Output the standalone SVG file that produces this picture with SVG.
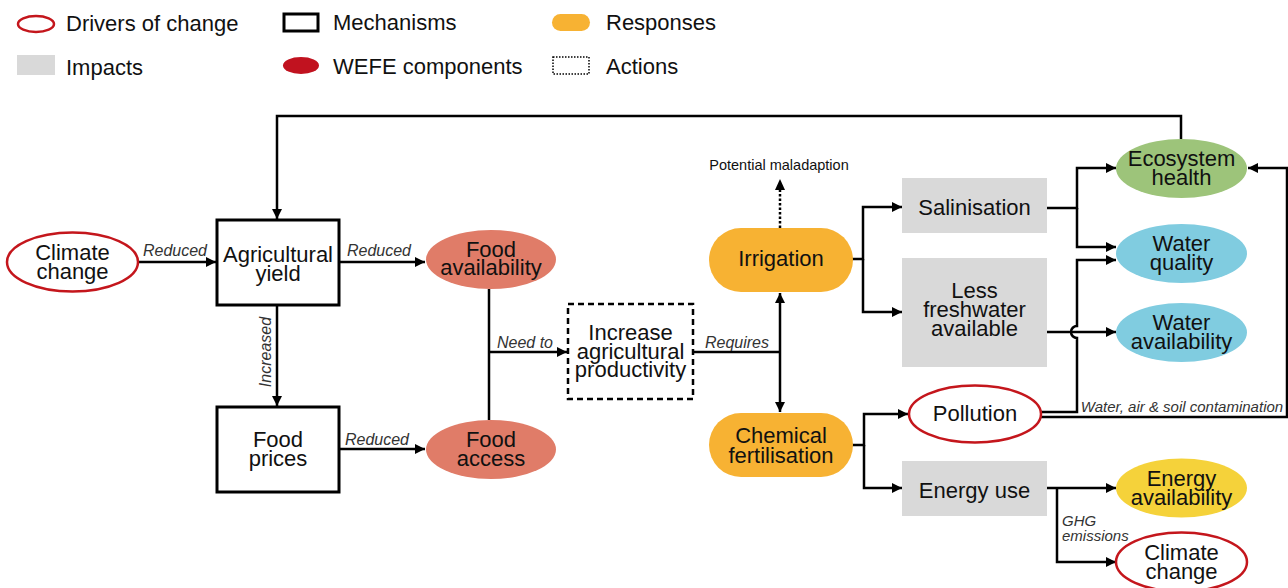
<svg xmlns="http://www.w3.org/2000/svg" width="1288" height="588" viewBox="0 0 1288 588">
<defs>
<marker id="ah" viewBox="0 0 10 10" refX="10" refY="5" markerWidth="10" markerHeight="10" markerUnits="userSpaceOnUse" orient="auto-start-reverse">
<path d="M0,0 L10,5 L0,10 Z" fill="#000"/>
</marker>
<style>
text{font-family:"Liberation Sans",Arial,sans-serif;fill:#111}
.n{font-size:22px;text-anchor:middle}
.leg{font-size:22px}
.lb{font-size:16px;font-style:italic;fill:#333}
.sm{font-size:15px;font-style:italic;fill:#333}
.c{fill:none;stroke:#000;stroke-width:2.5}
.a{marker-end:url(#ah)}
.drv{fill:#fff;stroke:#C4161C;stroke-width:2.5}
.mech{fill:#fff;stroke:#000;stroke-width:3}
.imp{fill:#D9D9D9}
.resp{fill:#F7B233}
.food{fill:#E07C68}
.water{fill:#80CCE0}
.eco{fill:#9DC47A}
.energy{fill:#F5D23A}
</style>
</defs>
<rect width="1288" height="588" fill="#fff"/>

<g id="legend">
<ellipse cx="36" cy="24" rx="18" ry="8" class="drv" stroke-width="2"/>
<text x="66" y="31" class="leg">Drivers of change</text>
<rect x="284" y="14" width="34" height="17" class="mech" stroke-width="2.5"/>
<text x="333" y="30" class="leg">Mechanisms</text>
<rect x="552" y="14" width="38" height="17" rx="8.5" class="resp"/>
<text x="606" y="30" class="leg">Responses</text>
<rect x="17" y="55" width="38" height="20" class="imp"/>
<text x="66" y="75" class="leg">Impacts</text>
<ellipse cx="301" cy="65.5" rx="18" ry="8.5" fill="#C1121F"/>
<text x="333" y="74" class="leg">WEFE components</text>
<rect x="553" y="57" width="36" height="17" fill="none" stroke="#000" stroke-width="1.5" stroke-dasharray="1.5,1.5"/>
<text x="606" y="74" class="leg">Actions</text>
</g>

<g id="connectors">
<path class="c a" d="M139,262 H216"/>
<path class="c a" d="M339,262 H425"/>
<path class="c a" d="M277,305 V406"/>
<path class="c a" d="M339,449 H425"/>
<path class="c" d="M489,289 V420"/>
<path class="c a" d="M489,352 H567"/>
<path class="c" d="M693,352 H780"/>
<path class="c a" d="M780,293 V412" marker-start="url(#ah)"/>
<path class="c" d="M780,228 V190" stroke-dasharray="2.5,2"/>
<path d="M775,190 L780,179 L785,190 Z" fill="#000"/>
<path class="c a" d="M852,259 H863 V207 H902"/>
<path class="c a" d="M863,259 V312 H902"/>
<path class="c a" d="M852,445 H864 V414 H908"/>
<path class="c a" d="M864,445 V488 H902"/>
<path class="c a" d="M1047,208 H1077 V168 H1116"/>
<path class="c a" d="M1077,208 V247 H1116"/>
<path class="c a" d="M1047,332 H1116"/>
<path class="c a" d="M1038,412 H1077 V338 A6,6 0 0 1 1077,326 V260 H1116"/>
<path class="c a" d="M1038,417 H1287 V168 H1248"/>
<path class="c a" d="M1181,139 V116 H277 V219"/>
<path class="c a" d="M1047,488 H1116"/>
<path class="c a" d="M1057,488 V562 H1116"/>
<text x="175" y="256" class="lb" text-anchor="middle">Reduced</text>
<text x="379" y="256" class="lb" text-anchor="middle">Reduced</text>
<text x="377" y="445" class="lb" text-anchor="middle">Reduced</text>
<text transform="translate(271,352) rotate(-90)" class="lb" text-anchor="middle" font-size="17">Increased</text>
<text x="525" y="348" class="lb" text-anchor="middle">Need to</text>
<text x="737" y="348" class="lb" text-anchor="middle">Requires</text>
<text x="1182" y="412" class="sm" text-anchor="middle">Water, air &amp; soil contamination</text>
<text x="1062" y="526" class="sm">GHG</text>
<text x="1062" y="541" class="sm">emissions</text>
</g>

<g id="climate-change-1">
<ellipse cx="72.5" cy="262" rx="65.5" ry="29.5" class="drv"/>
<text x="72.5" y="260" class="n">Climate</text>
<text x="72.5" y="279" class="n">change</text>
</g>
<g id="agricultural-yield">
<rect x="217" y="220" width="122" height="85" class="mech"/>
<text x="278" y="262" class="n">Agricultural</text>
<text x="278" y="281" class="n">yield</text>
</g>
<g id="food-prices">
<rect x="217" y="407" width="122" height="85" class="mech"/>
<text x="278" y="447" class="n">Food</text>
<text x="278" y="466" class="n">prices</text>
</g>
<g id="food-availability">
<ellipse cx="491" cy="259.5" rx="65" ry="29.5" class="food"/>
<text x="491" y="257" class="n">Food</text>
<text x="491" y="275" class="n">availability</text>
</g>
<g id="food-access">
<ellipse cx="491" cy="449.5" rx="65" ry="29.5" class="food"/>
<text x="491" y="447" class="n">Food</text>
<text x="491" y="466" class="n">access</text>
</g>
<g id="increase-productivity">
<rect x="568" y="304" width="125" height="95" fill="#fff" stroke="#000" stroke-width="2.5" stroke-dasharray="6,4"/>
<text x="630.5" y="340" class="n">Increase</text>
<text x="630.5" y="358.5" class="n">agricultural</text>
<text x="630.5" y="377" class="n">productivity</text>
</g>
<g id="potential-maladaption">
<text x="779" y="170" text-anchor="middle" font-size="14.5">Potential maladaption</text>
</g>
<g id="irrigation">
<rect x="709" y="228" width="144" height="64" rx="32" class="resp"/>
<text x="781" y="266" class="n">Irrigation</text>
</g>
<g id="chemical-fertilisation">
<rect x="709" y="413" width="144" height="64" rx="32" class="resp"/>
<text x="781" y="443" class="n">Chemical</text>
<text x="781" y="463" class="n">fertilisation</text>
</g>
<g id="salinisation">
<rect x="902" y="178" width="145" height="55" class="imp"/>
<text x="974.5" y="215" class="n">Salinisation</text>
</g>
<g id="less-freshwater">
<rect x="902" y="258" width="145" height="109" class="imp"/>
<text x="974.5" y="298" class="n">Less</text>
<text x="974.5" y="317" class="n">freshwater</text>
<text x="974.5" y="336" class="n">available</text>
</g>
<g id="pollution">
<ellipse cx="975" cy="414" rx="66" ry="28.5" class="drv"/>
<text x="975" y="421" class="n">Pollution</text>
</g>
<g id="energy-use">
<rect x="902" y="461" width="145" height="55" class="imp"/>
<text x="974.5" y="498" class="n">Energy use</text>
</g>
<g id="ecosystem-health">
<ellipse cx="1181.5" cy="168.5" rx="65.5" ry="29.5" class="eco"/>
<text x="1181.5" y="166" class="n">Ecosystem</text>
<text x="1181.5" y="185" class="n">health</text>
</g>
<g id="water-quality">
<ellipse cx="1181.5" cy="253.5" rx="65.5" ry="29.5" class="water"/>
<text x="1181.5" y="251" class="n">Water</text>
<text x="1181.5" y="270" class="n">quality</text>
</g>
<g id="water-availability">
<ellipse cx="1181.5" cy="332.5" rx="65.5" ry="29.5" class="water"/>
<text x="1181.5" y="330" class="n">Water</text>
<text x="1181.5" y="349" class="n">availability</text>
</g>
<g id="energy-availability">
<ellipse cx="1181.5" cy="488" rx="65.5" ry="29.5" class="energy"/>
<text x="1181.5" y="486" class="n">Energy</text>
<text x="1181.5" y="505" class="n">availability</text>
</g>
<g id="climate-change-2">
<ellipse cx="1181.5" cy="562" rx="65.5" ry="29.5" class="drv"/>
<text x="1181.5" y="560" class="n">Climate</text>
<text x="1181.5" y="579" class="n">change</text>
</g>
</svg>
